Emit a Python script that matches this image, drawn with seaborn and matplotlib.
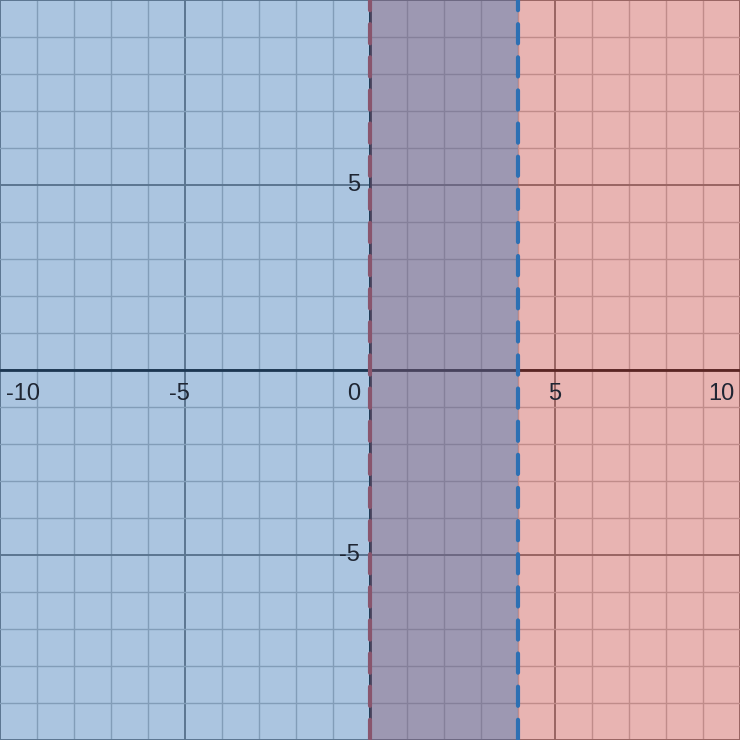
import numpy as np
import matplotlib
matplotlib.use("Agg")
import matplotlib.pyplot as plt
import seaborn as sns

# view window
x_range = [-10, 10]
y_range = [-10, 10]

# inequalities: x > 0 (red) and x < 4 (blue)
red_edge = 0
blue_edge = 4

# axis labels shown on the graph
x_labels = [-10, -5, 5, 10]
y_labels = [-5, 5]

red = "#c74440"
blue = "#2d70b3"

sns.set_style("white")
plt.rcParams["font.family"] = ["Liberation Sans", "DejaVu Sans"]

fig = plt.figure(figsize=(7.4, 7.4), dpi=100)
ax = fig.add_axes([0, 0, 1, 1])
ax.set_xlim(x_range)
ax.set_ylim(y_range)
for s in ax.spines.values():
    s.set_visible(False)
ax.set_xticks([])
ax.set_yticks([])

# grid, minor every unit, major every 5
for v in range(x_range[0], x_range[1] + 1):
    major = v % 5 == 0
    ax.axvline(v, color="#7a7a7a" if major else "#bcbcbc", lw=1.4 if major else 1.0, zorder=0.5)
for v in range(y_range[0], y_range[1] + 1):
    major = v % 5 == 0
    ax.axhline(v, color="#7a7a7a" if major else "#bcbcbc", lw=1.4 if major else 1.0, zorder=0.5)

# axes
ax.axhline(0, color="#111111", lw=2.0, zorder=0.8)
ax.axvline(0, color="#111111", lw=2.0, zorder=0.8)

ys = np.array([y_range[1], y_range[0]], dtype=float)


def dashed(line, color, z):
    line.set_color(color)
    line.set_linewidth(3.0)
    line.set_linestyle((2.15, (4.6, 3.35)))
    line.set_dash_capstyle("round")
    line.set_zorder(z)


# red region x > 0
ax.fill_betweenx(ys, red_edge, x_range[1], color=red, alpha=0.4, lw=0, zorder=1)
sns.lineplot(x=[red_edge, red_edge], y=ys, ax=ax, orient="y", estimator=None, sort=False)
dashed(ax.lines[-1], red, 1.2)

# blue region x < 4
ax.fill_betweenx(ys, x_range[0], blue_edge, color=blue, alpha=0.4, lw=0, zorder=1.4)
sns.lineplot(x=[blue_edge, blue_edge], y=ys, ax=ax, orient="y", estimator=None, sort=False)
dashed(ax.lines[-1], blue, 3)

ax.set_xlim(x_range)
ax.set_ylim(y_range)
ax.set_xlabel("")
ax.set_ylabel("")

txt = dict(fontsize=17, color="#1f2633", zorder=5)
for v in x_labels:
    if v == x_range[0]:
        ax.annotate(str(v), (v, 0), xytext=(4, -17), textcoords="offset points",
                    ha="left", va="center", **txt)
    elif v == x_range[1]:
        ax.annotate(str(v), (v, 0), xytext=(-4, -17), textcoords="offset points",
                    ha="right", va="center", **txt)
    else:
        off = -4 if v < 0 else 0
        ax.annotate(str(v), (v, 0), xytext=(off, -17), textcoords="offset points",
                    ha="center", va="center", **txt)
ax.annotate("0", (0, 0), xytext=(-12, -17), textcoords="offset points",
            ha="center", va="center", **txt)
for v in y_labels:
    ax.annotate(str(v), (0, v), xytext=(-7, 0), textcoords="offset points",
                ha="right", va="center", **txt)

fig.savefig("out.png", dpi=100)
